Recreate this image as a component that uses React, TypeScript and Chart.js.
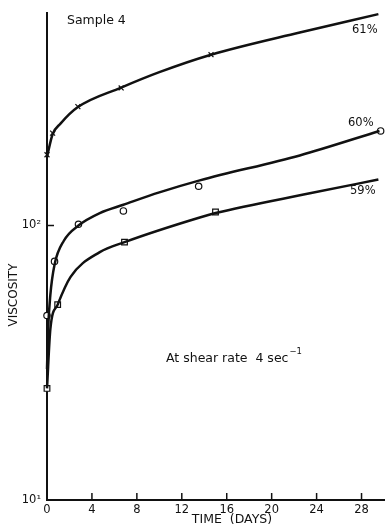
import React, { useEffect, useRef } from "react";
import { Chart, registerables } from "chart.js";

Chart.register(...registerables);

// ---- data ----
const xTickValues = [0, 4, 8, 12, 16, 20, 24, 28];
const yTickValues = [10, 100];
const yTickLabels = ["10\u00B9", "10\u00B2"];

// measured points
const pts61Days = [0, 0.5, 2.75, 6.6, 14.6];
const pts61Visc = [181, 217, 271, 317, 419];
const pts60Days = [0, 0.67, 2.8, 6.8, 13.5, 29.7];
const pts60Visc = [47, 74, 101, 113, 139, 221];
const pts59Days = [0, 0.95, 6.9, 15];
const pts59Visc = [25.5, 51.5, 87, 112];

// drawn (fitted) curves
const curve61Days = [0, 0.5, 1.2, 2.75, 6.6, 10, 14.6, 22.5, 29.5];
const curve61Visc = [178, 215, 235, 270, 318, 362, 419, 505, 589];
const curve60Days = [0, 0.1, 0.3, 0.67, 1.5, 2.8, 4.7, 6.8, 10, 13.6, 22.5, 29.6];
const curve60Visc = [30, 42, 56, 72, 88, 100, 111, 119, 132, 146, 180, 221];
const curve59Days = [0, 0.3, 0.95, 2.1, 4.7, 6.9, 13.6, 15, 23.4, 29.5];
const curve59Visc = [25.5, 42, 51.5, 65, 80, 87, 107, 111, 131, 147];

const seriesLabels = ["61%", "60%", "59%"];

const toXY = (xs: number[], ys: number[]) => xs.map((x, i) => ({ x, y: ys[i] }));

const FONT = "'DejaVu Sans', sans-serif";
const INK = "#111";

const annotationPlugin = {
  id: "annotations",
  afterDraw(chart: any) {
    const ctx = chart.ctx as CanvasRenderingContext2D;
    const xs = chart.scales.x;
    const ys = chart.scales.y;
    const area = chart.chartArea;
    ctx.save();
    // inward ticks
    ctx.strokeStyle = INK;
    ctx.lineWidth = 1.5;
    xTickValues.forEach((v) => {
      if (v === 0) return;
      const px = xs.getPixelForValue(v);
      ctx.beginPath();
      ctx.moveTo(px, area.bottom);
      ctx.lineTo(px, area.bottom - 7);
      ctx.stroke();
    });
    yTickValues.forEach((v) => {
      if (v === 10) return;
      const py = ys.getPixelForValue(v);
      ctx.beginPath();
      ctx.moveTo(area.left, py);
      ctx.lineTo(area.left + 7, py);
      ctx.stroke();
    });

    ctx.fillStyle = INK;
    ctx.textBaseline = "middle";
    ctx.textAlign = "left";
    ctx.font = `12.5px ${FONT}`;
    ctx.fillText("Sample 4", 67, 21);
    ctx.font = `11.5px ${FONT}`;
    ctx.fillText(seriesLabels[0], 352, 30);
    ctx.fillText(seriesLabels[1], 348, 123);
    ctx.fillText(seriesLabels[2], 350, 191);

    ctx.font = `12.5px ${FONT}`;
    const main = "At shear rate  4 sec";
    ctx.fillText(main, 166, 359);
    const w = ctx.measureText(main).width;
    ctx.font = `8.5px ${FONT}`;
    ctx.fillText("\u22121", 166 + w + 1, 352);

    ctx.font = `12.5px ${FONT}`;
    ctx.textAlign = "center";
    ctx.fillText("TIME  (DAYS)", 232, 520);

    ctx.font = `12px ${FONT}`;
    ctx.translate(13.5, 295);
    ctx.rotate(-Math.PI / 2);
    ctx.fillText("VISCOSITY", 0, 0);
    ctx.restore();
  },
};

export default function App() {
  const ref = useRef<HTMLCanvasElement | null>(null);

  useEffect(() => {
    if (!ref.current) return;
    const curve = (xs: number[], ys: number[]) => ({
      data: toXY(xs, ys),
      showLine: true,
      borderColor: INK,
      borderWidth: 2.5,
      pointRadius: 0,
      cubicInterpolationMode: "monotone" as const,
      clip: false as any,
    });
    const pts = (xs: number[], ys: number[], style: string, r: number) => ({
      data: toXY(xs, ys),
      showLine: false,
      borderColor: INK,
      backgroundColor: "#fff",
      borderWidth: 1.2,
      pointStyle: style as any,
      pointRadius: r,
      clip: false as any,
    });

    const chart = new Chart(ref.current, {
      type: "scatter",
      data: {
        datasets: [
          curve(curve61Days, curve61Visc),
          curve(curve60Days, curve60Visc),
          curve(curve59Days, curve59Visc),
          pts(pts61Days, pts61Visc, "crossRot", 3.5),
          pts(pts60Days, pts60Visc, "circle", 3.2),
          pts(pts59Days, pts59Visc, "rect", 4),
        ],
      },
      options: {
        animation: false,
        responsive: false,
        layout: { padding: { top: 12, right: 7, left: 0, bottom: 0 } },
        plugins: { legend: { display: false }, tooltip: { enabled: false } },
        scales: {
          x: {
            type: "linear",
            min: 0,
            max: 30,
            grid: { display: false, drawTicks: false },
            border: { display: true, color: INK, width: 2 },
            afterBuildTicks: (s: any) => {
              s.ticks = xTickValues.map((value) => ({ value }));
            },
            afterFit: (s: any) => {
              s.height = 27;
            },
            ticks: {
              color: INK,
              font: { family: FONT, size: 11.5 },
              padding: 3,
              maxRotation: 0,
              callback: (v: any) => String(v),
            },
          },
          y: {
            type: "logarithmic",
            min: 10,
            max: 595,
            grid: { display: false, drawTicks: false },
            border: { display: true, color: INK, width: 2 },
            afterBuildTicks: (s: any) => {
              s.ticks = yTickValues.map((value) => ({ value }));
            },
            afterFit: (s: any) => {
              s.width = 47;
            },
            ticks: {
              color: INK,
              font: { family: FONT, size: 11.5 },
              padding: 6,
              callback: (v: any) => {
                const i = yTickValues.indexOf(Number(v));
                return i >= 0 ? yTickLabels[i] : "";
              },
            },
          },
        },
      },
      plugins: [annotationPlugin],
    });
    return () => chart.destroy();
  }, []);

  return (
    <div style={{ position: "absolute", left: 0, top: 0, width: 391, height: 527, background: "#fff" }}>
      <canvas ref={ref} width={391} height={527} style={{ display: "block" }} />
    </div>
  );
}
